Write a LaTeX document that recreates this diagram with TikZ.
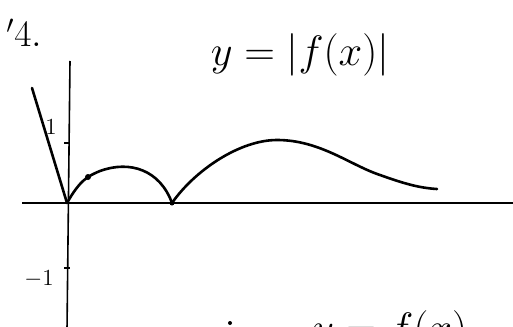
\documentclass[tikz,border=0pt]{standalone}
\usepackage{amsmath}
\usepackage{tikz}
\usetikzlibrary{positioning}

\begin{document}
\begin{tikzpicture}[x=1pt, y=-1pt,
    axisline/.style={line width=1.6pt},
    curve/.style={line width=2.6pt, line cap=round},
    ticklabel/.style={font=\Large, scale=1.6, inner sep=0pt},
    title/.style={font=\huge, scale=2.05},
]
\useasboundingbox (0,0) rectangle (513,326);
\clip (0,0) rectangle (513,326);

% axes
\coordinate (o) at (67,203);
\coordinate (xl) at (22,203);
\coordinate (xr) at (513,203);
\coordinate (yt) at (70,61);
\coordinate (yb) at (67,330);
\draw[axisline] (xl) -- (xr);
\draw[axisline] (yb) -- (yt);

% ticks
\coordinate (tone) at (67,143);
\coordinate (tmone) at (67,268);
\draw[axisline] ([xshift=-3pt]tone) -- ([xshift=3pt]tone);
\draw[axisline] ([xshift=-3pt]tmone) -- ([xshift=3pt]tmone);
\node[ticklabel, left=10pt of tone, yshift=10pt] (lone) {1};
\node[ticklabel, left=13pt of tmone, yshift=-7pt] (lmone) {$-1$};

% curves
\coordinate (z) at (172,203);
\draw[curve] (32,88) -- (o);
\draw[curve] (o) .. controls (80,180) and (88,176) .. (100,171)
    .. controls (130,160) and (160,170) .. (z);
\fill (88,177) circle (3pt);
\fill (z) circle (2.5pt);
\draw[curve] (z) .. controls (195,170) and (240,140) .. (277,140)
    .. controls (320,140) and (350,165) .. (380,175)
    .. controls (405,184) and (420,188) .. (437,189);

% labels
\node[font=\huge, scale=1.8] (num) at (24,33) {$'4.$};
\node[title] (fabs) at (300,55) {$y = |f(x)|$};
\node[title, anchor=base west] (fx) at (305,342) {$y = f(x)$};
\fill (230,323) circle (2pt);
\end{tikzpicture}
\end{document}
